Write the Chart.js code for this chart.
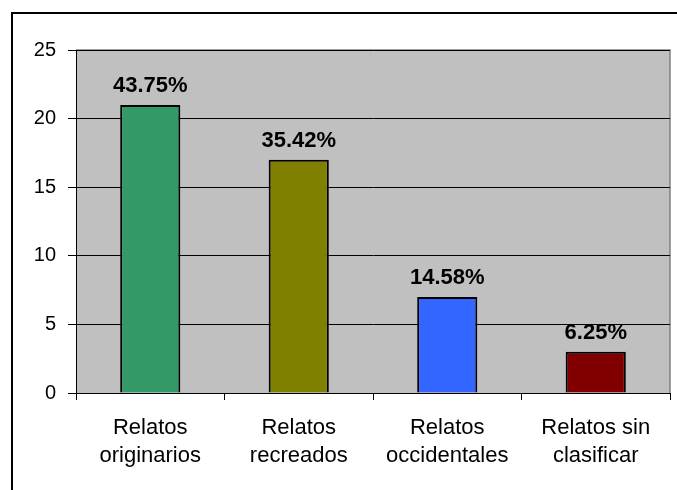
<!DOCTYPE html>
<html>
<head>
<meta charset="utf-8">
<script src="https://cdn.jsdelivr.net/npm/chart.js@4"></script>
<style>
  html, body { margin: 0; padding: 0; background: #ffffff; }
  #wrap { width: 677px; height: 490px; position: relative; }
</style>
</head>
<body>
<div id="wrap"><canvas id="relatosChart" width="677" height="490"></canvas></div>
<script>
const categories = [
    ['Relatos', 'originarios'],
    ['Relatos', 'recreados'],
    ['Relatos', 'occidentales'],
    ['Relatos sin', 'clasificar']
];
const counts = [21, 17, 7, 3];
const percentLabels = ['43.75%', '35.42%', '14.58%', '6.25%'];
const barColors = ['#339966', '#808000', '#3366FF', '#800000'];
const yTicks = [0, 5, 10, 15, 20, 25];

// gray plot background plus the frame around the whole chart
const frame = {
    id: 'frame',
    beforeDraw(chart) {
        const c = chart.ctx, a = chart.chartArea;
        c.save();
        c.fillStyle = '#C0C0C0';
        c.fillRect(a.left, a.top, a.right - a.left, a.bottom - a.top);
        c.strokeStyle = '#808080';
        c.lineWidth = 1.5;
        c.beginPath();
        c.moveTo(a.left, a.top);
        c.lineTo(a.right, a.top);
        c.lineTo(a.right, a.bottom);
        c.stroke();
        c.strokeStyle = '#000000';
        c.lineWidth = 2;
        c.strokeRect(12, 13, 700, 500);
        c.restore();
    }
};

// percentage above each bar
const barValues = {
    id: 'barValues',
    afterDatasetsDraw(chart) {
        const c = chart.ctx;
        const meta = chart.getDatasetMeta(0);
        c.save();
        c.font = 'bold 22px "Liberation Sans", Arial, sans-serif';
        c.fillStyle = '#000000';
        c.textAlign = 'center';
        c.textBaseline = 'bottom';
        meta.data.forEach((bar, i) => {
            c.fillText(percentLabels[i], bar.x, bar.y - 8);
        });
        c.restore();
    }
};

const ctx = document.getElementById('relatosChart').getContext('2d');
new Chart(ctx, {
    type: 'bar',
    data: {
        labels: categories,
        datasets: [{
            data: counts,
            backgroundColor: barColors,
            borderColor: '#000000',
            borderWidth: 2,
            barPercentage: 0.405,
            categoryPercentage: 1
        }]
    },
    options: {
        responsive: false,
        animation: false,
        layout: { padding: { left: 0, top: 50, right: 7, bottom: 0 } },
        plugins: {
            legend: { display: false },
            tooltip: { enabled: false }
        },
        scales: {
            x: {
                afterFit(scale) { scale.height = 97; },
                grid: {
                    drawOnChartArea: false,
                    drawTicks: true,
                    tickLength: 7,
                    color: '#000000',
                    offset: true
                },
                border: { color: '#000000', width: 1 },
                ticks: {
                    color: '#000000',
                    padding: 14,
                    maxRotation: 0,
                    font: { family: '"Liberation Sans", Arial, sans-serif', size: 22, lineHeight: 1.27 }
                }
            },
            y: {
                min: 0,
                max: 25,
                afterFit(scale) { scale.width = 76; },
                afterBuildTicks(scale) { scale.ticks = yTicks.map(v => ({ value: v })); },
                grid: {
                    color: '#000000',
                    tickLength: 8,
                    lineWidth: 1
                },
                border: { color: '#000000', width: 1 },
                ticks: {
                    color: '#000000',
                    padding: 12,
                    font: { family: '"Liberation Sans", Arial, sans-serif', size: 20 }
                }
            }
        }
    },
    plugins: [frame, barValues]
});
</script>
</body>
</html>
